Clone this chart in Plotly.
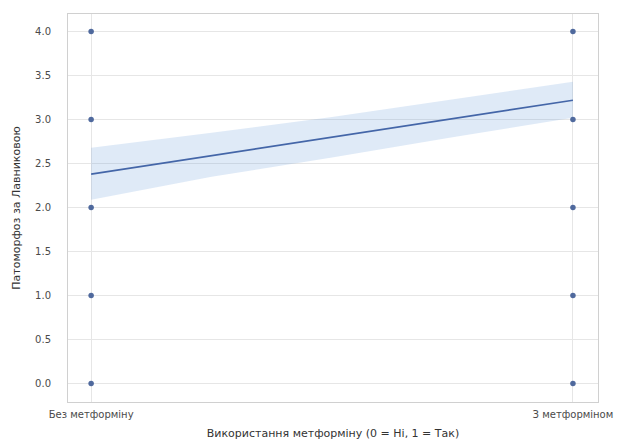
import plotly.graph_objects as go

# Observations: metformin use (0/1) vs pathomorphosis grade
group = [0, 0, 0, 0, 0, 1, 1, 1, 1, 1]
grade = [4.0, 3.0, 2.0, 1.0, 0.0, 4.0, 3.0, 2.0, 1.0, 0.0]

# Fitted regression line and its confidence band
fit_x = [0.0, 0.25, 0.5, 0.75, 1.0]
fit_y = [2.38, 2.59, 2.80, 3.01, 3.22]
ci_low = [2.09, 2.35, 2.57, 2.80, 3.02]
ci_high = [2.68, 2.85, 3.03, 3.23, 3.43]

x_tick_vals = [0, 1]
x_tick_text = ["Без метформіну", "З метформіном"]
y_tick_vals = [0.0, 0.5, 1.0, 1.5, 2.0, 2.5, 3.0, 3.5, 4.0]

fig = go.Figure()

fig.add_trace(go.Scatter(
    x=fit_x + fit_x[::-1], y=ci_high + ci_low[::-1],
    fill="toself", fillcolor="rgba(110,160,220,0.22)",
    line=dict(width=0), mode="lines", hoverinfo="skip", showlegend=False,
))
fig.add_trace(go.Scatter(
    x=fit_x, y=fit_y, mode="lines",
    line=dict(color="#4466a8", width=1.6), showlegend=False,
))
fig.add_trace(go.Scatter(
    x=group, y=grade, mode="markers",
    marker=dict(color="#3d5a94", size=5.5, opacity=0.9), showlegend=False,
))

axis_font = dict(family="DejaVu Sans", size=10, color="#4a4a4a")
fig.update_layout(
    width=640, height=443,
    margin=dict(l=68, r=42, t=14, b=41),
    paper_bgcolor="white", plot_bgcolor="white",
    font=axis_font,
    xaxis=dict(
        range=[-0.048, 1.052], tickvals=x_tick_vals, ticktext=x_tick_text,
        showgrid=True, gridcolor="#e6e6e6", zeroline=False,
        showline=True, linecolor="#d0d0d0", mirror=True, ticks="",
        ticklabelstandoff=3, automargin=False,
        title=dict(text="Використання метформіну (0 = Ні, 1 = Так)",
                   font=dict(family="DejaVu Sans", size=11, color="#333333"),
                   standoff=10),
    ),
    yaxis=dict(
        range=[-0.21, 4.2], tickvals=y_tick_vals, tickformat=".1f",
        showgrid=True, gridcolor="#e6e6e6", zeroline=False,
        showline=True, linecolor="#d0d0d0", mirror=True, ticks="",
        ticklabelstandoff=14, automargin=False,
        title=dict(text="Патоморфоз за Лавниковою",
                   font=dict(family="DejaVu Sans", size=11, color="#333333"),
                   standoff=12),
    ),
)

fig.write_html("out.html")
